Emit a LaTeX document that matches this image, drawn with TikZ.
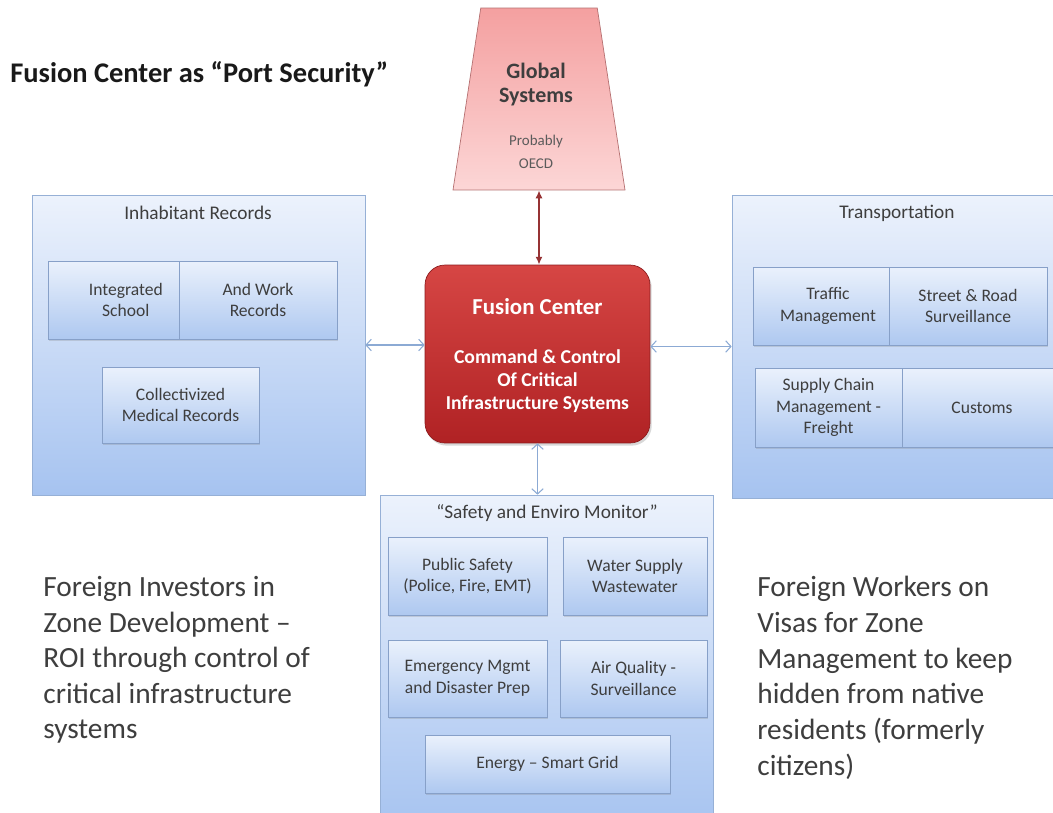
\documentclass[tikz,border=0pt]{standalone}
\usepackage{fontspec}
\setmainfont{Carlito}
\usetikzlibrary{arrows.meta,shapes.geometric,shadows}

\definecolor{panelline}{RGB}{150,176,214}
\definecolor{paneltop}{RGB}{236,242,252}
\definecolor{panelbot}{RGB}{166,195,240}
\definecolor{boxline}{RGB}{135,160,200}
\definecolor{boxtop}{RGB}{234,241,252}
\definecolor{boxbot}{RGB}{174,200,240}
\definecolor{linkblue}{RGB}{140,170,212}
\definecolor{fusiontop}{RGB}{214,70,68}
\definecolor{fusionbot}{RGB}{176,34,36}
\definecolor{globaltop}{RGB}{244,160,160}
\definecolor{globalbot}{RGB}{252,214,214}
\definecolor{darkred}{RGB}{150,50,52}
\definecolor{txt}{RGB}{62,62,62}

\tikzset{
  panel/.style={draw=panelline, top color=paneltop, bottom color=panelbot, inner sep=0pt},
  subbox/.style={draw=boxline, top color=boxtop, bottom color=boxbot, align=center,
    text=txt, font=\fontsize{10}{12.3}\selectfont, inner sep=2pt,
    drop shadow={shadow xshift=0.6pt, shadow yshift=-1pt, opacity=0.25}},
  ptitle/.style={text=txt, font=\fontsize{11}{13}\selectfont},
  blink/.style={linkblue, line width=0.6pt, {Straight Barb[length=3pt,width=6.5pt]}-{Straight Barb[length=3pt,width=6.5pt]}},
  rlink/.style={darkred, line width=1pt, {Latex[length=4.5pt,width=4pt]}-{Latex[length=4.5pt,width=4pt]}},
  sidetext/.style={anchor=north west, inner sep=0pt, align=left, text=txt}
}

\begin{document}
\begin{tikzpicture}[x=0.02cm, y=-0.02cm]
  \fill[white] (0,0) rectangle (1053,812);
  \useasboundingbox (0,0) rectangle (1053,812);
  \clip (0,0) rectangle (1053,812);

  % title
  \node[anchor=west, inner sep=0pt, text=black!90, font=\fontsize{16.2}{18}\selectfont\bfseries] (title) at (10,74) {Fusion Center as “Port Security”};

  % global systems
  \node[trapezium, trapezium angle=76.6, trapezium stretches=true, minimum width=3.44cm,
    minimum height=3.64cm, draw=darkred!70, top color=globaltop, bottom color=globalbot] (global) at (539,99) {};
  \node[align=center, text=txt, font=\fontsize{12.5}{14.2}\selectfont\bfseries] (globaltxt) at (536,84.5) {Global\\Systems};
  \node[align=center, text=txt!85, font=\fontsize{8.5}{13}\selectfont] (oecd) at (536,151.5) {Probably\\OECD};

  % fusion center
  \node[rounded corners=0.4cm, minimum width=4.5cm, minimum height=3.56cm, top color=fusiontop,
    bottom color=fusionbot, draw=fusionbot!80!black,
    drop shadow={shadow xshift=1pt, shadow yshift=-1.5pt, opacity=0.3}] (fusion) at (537.5,354) {};
  \node[text=white, font=\fontsize{13}{15}\selectfont\bfseries] (fusiontitle) at (537.5,307) {Fusion Center};
  \node[text=white, align=center, font=\fontsize{11.2}{13}\selectfont\bfseries] (fusionsub) at (537.5,381)
    {Command \& Control\\Of Critical\\Infrastructure Systems};

  % left panel
  \node[panel, minimum width=6.66cm, minimum height=6cm] (lpanel) at (198.5,345) {};
  \node[ptitle] (ltitle) at (198,213) {Inhabitant Records};
  \node[subbox, minimum width=2.62cm, minimum height=1.56cm] (school) at (113.5,300) {\hspace*{14pt}Integrated\\\hspace*{14pt}School};
  \node[subbox, minimum width=3.16cm, minimum height=1.56cm] (work) at (258,300) {And Work\\Records};
  \node[subbox, minimum width=3.14cm, minimum height=1.52cm] (medical) at (180.5,405) {Collectivized\\Medical Records};

  % right panel
  \node[panel, minimum width=6.76cm, minimum height=6.06cm] (rpanel) at (901,346.5) {};
  \node[ptitle] (rtitle) at (897,213) {Transportation};
  \node[subbox, minimum width=2.72cm, minimum height=1.56cm] (traffic) at (821,306) {\hspace*{8pt}Traffic\\\hspace*{8pt}Management};
  \node[subbox, minimum width=3.16cm, minimum height=1.56cm] (street) at (968,306) {Street \& Road\\Surveillance};
  \node[subbox, minimum width=2.94cm, minimum height=1.58cm] (supply) at (828.5,407.5) {Supply Chain\\Management -\\Freight};
  \node[subbox, minimum width=3.2cm, minimum height=1.58cm] (customs) at (982,407.5) {Customs};

  % bottom panel
  \node[panel, minimum width=6.66cm, minimum height=6.7cm] (bpanel) at (546.5,662.5) {};
  \node[ptitle] (btitle) at (547,513) {“Safety and Enviro Monitor”};
  \node[subbox, minimum width=3.18cm, minimum height=1.56cm] (safety) at (467.5,576) {Public Safety\\(Police, Fire, EMT)};
  \node[subbox, minimum width=2.88cm, minimum height=1.56cm] (water) at (635,576) {Water Supply\\Wastewater};
  \node[subbox, minimum width=3.18cm, minimum height=1.54cm] (emerg) at (467.5,678.5) {Emergency Mgmt\\and Disaster Prep};
  \node[subbox, minimum width=2.94cm, minimum height=1.54cm] (air) at (633.5,678.5) {Air Quality -\\Surveillance};
  \node[subbox, minimum width=4.9cm, minimum height=1.16cm] (energy) at (547.5,764) {Energy – Smart Grid};

  % links
  \draw[rlink] (global.south) -- (global.south |- fusion.north);
  \draw[blink] (lpanel.east) -- (lpanel.east -| fusion.west);
  \draw[blink] (fusion.east |- rpanel.west) -- (rpanel.west);
  \draw[blink] (fusion.south) -- (fusion.south |- bpanel.north);

  % side notes
  \node[sidetext, font=\fontsize{16.7}{20.2}\selectfont] (investors) at (43,576)
    {Foreign Investors in\\Zone Development –\\ROI through control of\\critical infrastructure\\systems};
  \node[sidetext, font=\fontsize{16.7}{20.3}\selectfont] (workers) at (757,576)
    {Foreign Workers on\\Visas for Zone\\Management to keep\\hidden from native\\residents (formerly\\citizens)};
\end{tikzpicture}
\end{document}
